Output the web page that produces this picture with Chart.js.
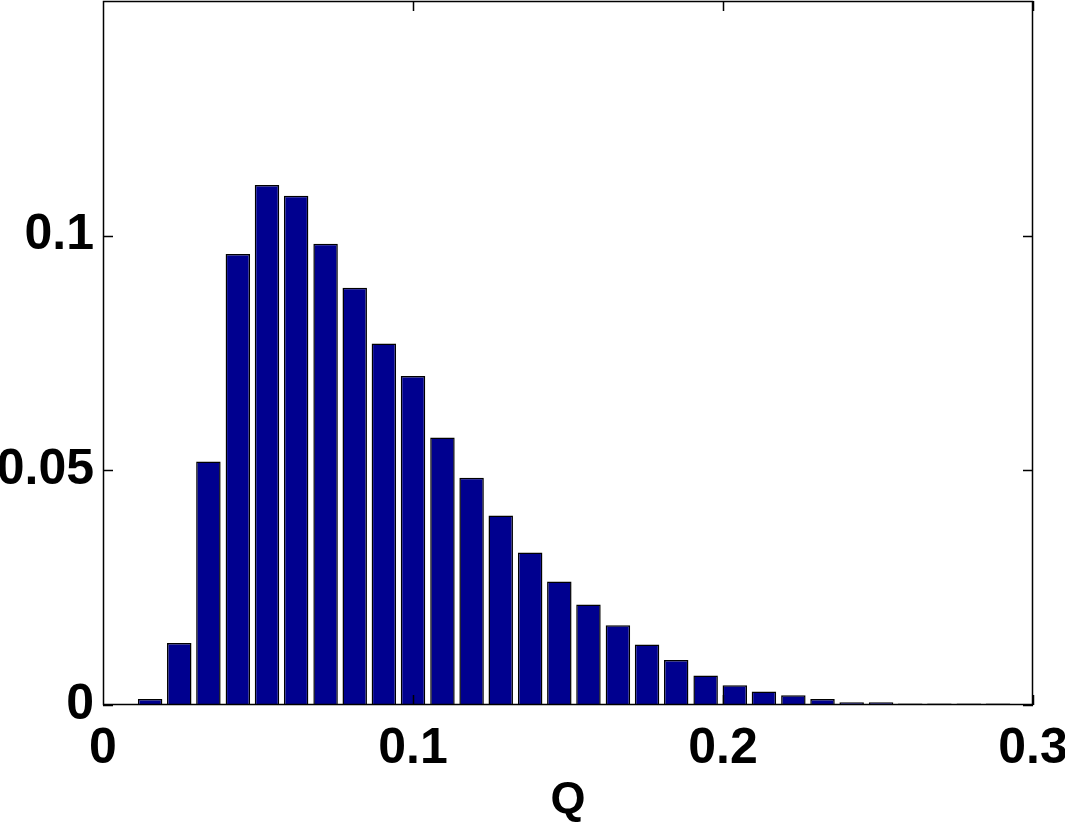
<!DOCTYPE html>
<html>
<head>
<meta charset="utf-8">
<script src="https://cdn.jsdelivr.net/npm/chart.js@4"></script>
<style>
  html, body { margin: 0; padding: 0; background: #fff; }
  #wrap { width: 1065px; height: 822px; }
</style>
</head>
<body>
<div id="wrap"><canvas id="histChart" width="1065" height="822"></canvas></div>
<script>
// bin centres (Q) and relative frequencies
const binCenters = [0.0152, 0.0246, 0.0340, 0.0435, 0.0529, 0.0623, 0.0718, 0.0812, 0.0906, 0.1000,
  0.1095, 0.1189, 0.1283, 0.1378, 0.1472, 0.1566, 0.1661, 0.1755, 0.1849, 0.1944,
  0.2038, 0.2132, 0.2227, 0.2321, 0.2415, 0.2510, 0.2604, 0.2698, 0.2793, 0.2887];
const freqs = [0.0013, 0.0132, 0.0519, 0.0961, 0.1108, 0.1085, 0.0983, 0.0889, 0.0770, 0.0701,
  0.0570, 0.0484, 0.0404, 0.0325, 0.0263, 0.0214, 0.0170, 0.0129, 0.0096, 0.0063,
  0.0042, 0.0029, 0.0021, 0.0013, 0.0006, 0.0006, 0.0003, 0.0003, 0.0003, 0.0003];
const xTicks = [0, 0.1, 0.2, 0.3];
const yTicks = [0, 0.05, 0.1];

const font = { family: '"Liberation Sans", Arial, sans-serif', weight: 'bold', size: 50 };

// matlab style box with inward ticks on all four sides
const framePlugin = {
  id: 'frame',
  afterDraw(chart) {
    const { ctx, chartArea: a, scales: { x, y } } = chart;
    const len = 10;
    ctx.save();
    ctx.strokeStyle = '#000';
    ctx.lineWidth = 1.5;
    ctx.beginPath();
    ctx.rect(a.left + 0.5, a.top + 0.5, a.right - a.left - 1, a.bottom - a.top - 1);
    xTicks.forEach(v => {
      const px = Math.round(x.getPixelForValue(v)) + 0.5;
      ctx.moveTo(px, a.bottom); ctx.lineTo(px, a.bottom - len);
      ctx.moveTo(px, a.top); ctx.lineTo(px, a.top + len);
    });
    yTicks.forEach(v => {
      const py = Math.round(y.getPixelForValue(v)) + 0.5;
      ctx.moveTo(a.left, py); ctx.lineTo(a.left + len, py);
      ctx.moveTo(a.right, py); ctx.lineTo(a.right - len, py);
    });
    ctx.stroke();
    ctx.restore();
  }
};

new Chart(document.getElementById('histChart'), {
  type: 'bar',
  data: {
    datasets: [{
      data: binCenters.map((c, i) => ({ x: c, y: freqs[i] })),
      backgroundColor: '#00008f',
      borderColor: '#000',
      borderWidth: 1.5,
      barPercentage: 0.84,
      categoryPercentage: 1
    }]
  },
  options: {
    responsive: false,
    animation: false,
    layout: { padding: { top: 1, right: 32, left: 0, bottom: 0 } },
    plugins: { legend: { display: false }, tooltip: { enabled: false } },
    scales: {
      x: {
        type: 'linear',
        min: 0, max: 0.3,
        offset: false,
        grid: { display: false, drawTicks: false },
        border: { display: false },
        afterBuildTicks: s => { s.ticks = xTicks.map(v => ({ value: v })); },
        afterFit: s => { s.height = 117; s.paddingLeft = 0; s.paddingRight = 0; },
        ticks: { color: '#000', font, padding: 14, maxRotation: 0, autoSkip: false, callback: v => String(v) },
        title: { display: true, text: 'Q', color: '#000', font: { ...font, size: 45 }, padding: { top: 0, bottom: -6 } }
      },
      y: {
        min: 0, max: 0.15,
        grid: { display: false, drawTicks: false },
        border: { display: false },
        afterBuildTicks: s => { s.ticks = yTicks.map(v => ({ value: v })); },
        afterFit: s => { s.width = 103; s.paddingTop = 0; s.paddingBottom = 0; },
        ticks: { color: '#000', font, padding: 9, autoSkip: false, callback: v => String(v) }
      }
    }
  },
  plugins: [framePlugin]
});
</script>
</body>
</html>
